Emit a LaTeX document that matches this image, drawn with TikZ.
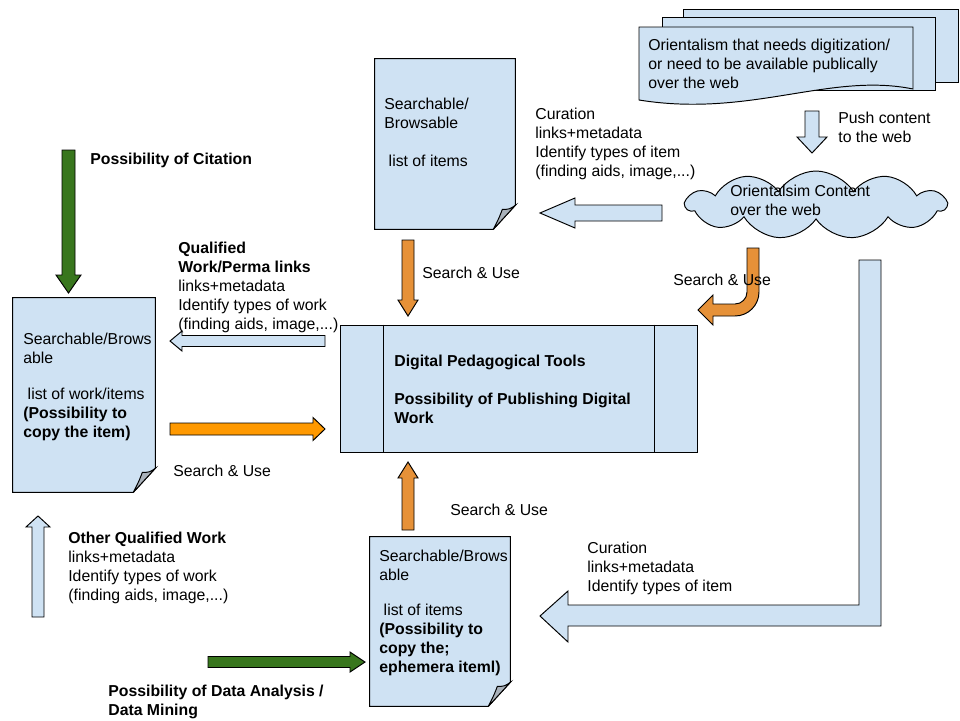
\documentclass[tikz,border=0pt]{standalone}
\usepackage{fontspec}
\setmainfont{Liberation Sans}
\usetikzlibrary{calc,shapes.symbols}

\definecolor{docblue}{HTML}{CFE2F3}
\definecolor{leafgreen}{HTML}{38761D}
\definecolor{darkorange}{HTML}{E69138}
\definecolor{brightorange}{HTML}{FF9900}
\definecolor{foldgray}{HTML}{A9B1BA}

\tikzset{
  outline/.style={draw=black, line width=0.55pt, line join=miter},
  bluefill/.style={outline, fill=docblue},
  greenfill/.style={outline, fill=leafgreen},
  orangefill/.style={outline, fill=darkorange},
  brightfill/.style={outline, fill=brightorange},
  txt/.style={inner sep=0pt, anchor=north west, align=left, font=\fontsize{9}{10.8}\selectfont},
  sheet/.style={inner sep=0pt, draw=none}
}

% page with a curled corner, drawn round an empty node
\newcommand\docoutline[1]{%
  \draw[bluefill] (#1.north west) -- (#1.north east) -- ($(#1.south east)+(0,-24)$)
    -- ($(#1.south east)+(-22,0)$) -- (#1.south west) -- cycle;
  \draw[outline, fill=foldgray] ($(#1.south east)+(-22,0)$) -- ($(#1.south east)+(0,-24)$)
    .. controls ($(#1.south east)+(-6,-20)$) .. ($(#1.south east)+(-13,-20)$)
    .. controls ($(#1.south east)+(-16,-12)$) .. ($(#1.south east)+(-22,0)$);}

% block arrows: style, tail, head base, tip, centre line, shaft half, head half
\newcommand\blockh[7]{%
  \draw[#1] (#2,#5-#6) -- (#3,#5-#6) -- (#3,#5-#7) -- (#4,#5) -- (#3,#5+#7) -- (#3,#5+#6) -- (#2,#5+#6) -- cycle;}
\newcommand\blockv[7]{%
  \draw[#1] (#5-#6,#2) -- (#5-#6,#3) -- (#5-#7,#3) -- (#5,#4) -- (#5+#7,#3) -- (#5+#6,#3) -- (#5+#6,#2) -- cycle;}

\begin{document}
\begin{tikzpicture}[x=0.02cm, y=-0.02cm]
\useasboundingbox (0,0) rectangle (960,720);

% pile of pages, top right
\draw[bluefill] (683,9) rectangle (958,82);
\draw[bluefill] (662,17) rectangle (935,90);
\draw[bluefill] (639,27) -- (913,27) -- (913,89) .. controls (830,72) and (750,118) .. (639,100) -- cycle;
\node[txt] (orient) at (648,39) {Orientalism that needs digitization/\\or need to be available publically\\over the web};

\blockv{bluefill}{111}{137}{153}{812}{7}{15}
\node[txt] (push) at (838,112) {Push content\\to the web};

\node[cloud, bluefill, cloud puffs=11, cloud puff arc=115, aspect=3.8, minimum width=5.2cm, minimum height=1.36cm, inner sep=0pt] (cloud) at (816,205) {};
\node[txt] (cloudtxt) at (730,185) {Orientalsim Content\\over the web};

% list of items, top
\node[sheet, minimum width=2.8cm, minimum height=3.4cm] (items) at (445,144) {};
\docoutline{items}
\node[txt] (itemstxt) at (384,98) {Searchable/\\Browsable\\[10.8pt]\ list of items};

\blockh{bluefill}{662}{575}{540}{213}{8}{15}
\node[txt] (curation) at (535,108) {Curation\\links+metadata\\Identify types of item\\(finding aids, image,...)};

\blockv{orangefill}{240}{300}{316}{408}{6}{10}
\node[txt] (searcha) at (422,267) {Search \& Use};

% bent arrow from the cloud
\draw[orangefill] (747,248) -- (759,248) -- (759,292) arc[start angle=0, end angle=90, radius=24]
  -- (713,316) -- (713,325) -- (698,310) -- (713,295) -- (713,304) -- (735,304)
  arc[start angle=90, end angle=0, radius=12] -- cycle;
\node[txt] (searchb) at (673,274) {Search \& Use};

% left side
\blockv{greenfill}{150}{275}{293}{68.5}{6.5}{12.5}
\node[txt] (citation) at (90,153) {\textbf{Possibility of Citation}};

\node[txt] (qualified) at (178,242) {\textbf{Qualified}\\\textbf{Work/Perma links}\\links+metadata\\Identify types of work\\(finding aids, image,...)};
\blockh{bluefill}{325}{182}{170}{341}{5.5}{10}

\node[sheet, minimum width=2.84cm, minimum height=3.88cm] (works) at (84,395) {};
\docoutline{works}
\node[txt] (workstxt) at (23,333) {Searchable/Brows\\able\\[9.6pt]\ list of work/items\\\textbf{(Possibility to}\\\textbf{copy the item)}};

\blockh{brightfill}{170}{313}{325}{429}{6}{11.5}
\node[txt] (searchc) at (173,465) {Search \& Use};

% centre
\node[bluefill, minimum width=7.16cm, minimum height=2.54cm, inner sep=0pt] (tools) at (519,388.5) {};
\draw[outline] ($(tools.north west)+(44,0)$) -- ($(tools.south west)+(44,0)$);
\draw[outline] ($(tools.north east)+(-44,0)$) -- ($(tools.south east)+(-44,0)$);
\node[txt] (toolstxt) at (394,355) {\textbf{Digital Pedagogical Tools}\\[10.8pt]\textbf{Possibility of Publishing Digital}\\\textbf{Work}};

\blockv{orangefill}{530}{478}{462}{408}{6}{10}
\node[txt] (searchd) at (450,504) {Search \& Use};

% bottom
\blockv{bluefill}{617}{527}{516}{38}{6}{12}
\node[txt] (other) at (68,532) {\textbf{Other Qualified Work}\\links+metadata\\Identify types of work\\(finding aids, image,...)};

\node[sheet, minimum width=2.8cm, minimum height=3.38cm] (ephemera) at (440,621.5) {};
\docoutline{ephemera}
\node[txt] (ephemeratxt) at (379,550) {Searchable/Brows\\able\\[9pt]\ list of items\\\textbf{(Possibility to}\\\textbf{copy the;}\\\textbf{ephemera iteml)}};

\blockh{greenfill}{208}{350}{365}{662}{5.5}{10}
\node[txt] (datamining) at (108,685) {\textbf{Possibility of Data Analysis /}\\\textbf{Data Mining}};

% long bent arrow on the right
\draw[bluefill] (859,260) -- (881,260) -- (881,626) -- (568,626) -- (568,642) -- (540,616)
  -- (568,591) -- (568,605) -- (859,605) -- cycle;
\node[txt] (curationb) at (587,542) {Curation\\links+metadata\\Identify types of item};

\end{tikzpicture}
\end{document}
